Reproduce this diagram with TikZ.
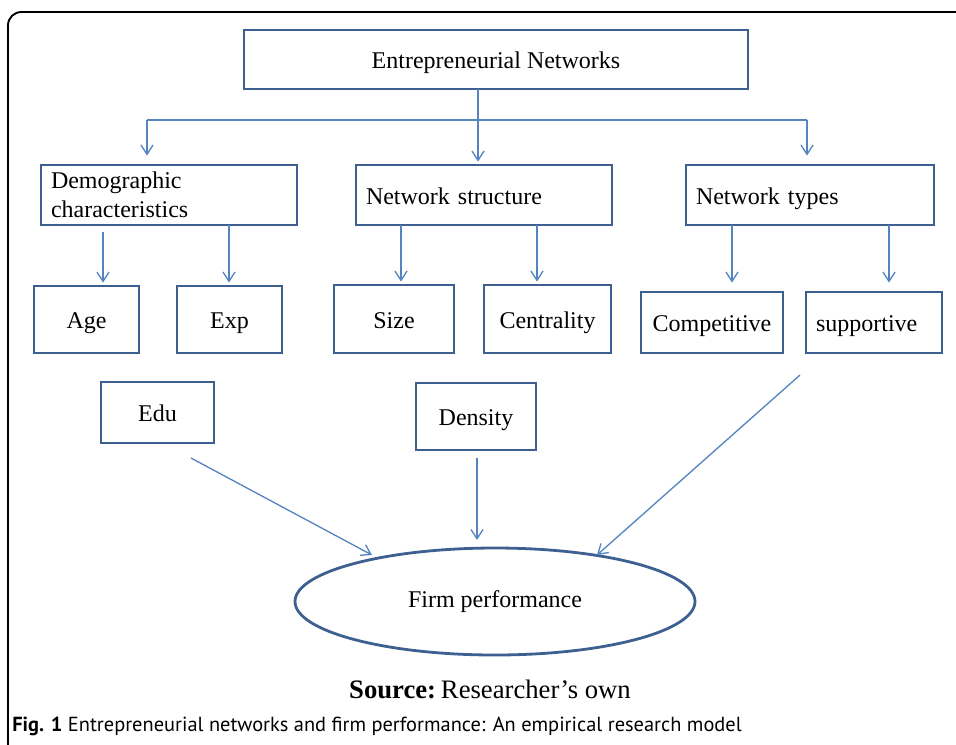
\documentclass[tikz,border=0pt]{standalone}
\usepackage{fontspec}
\setmainfont{Liberation Serif}
\newfontfamily\capfont{PT Sans}
\usetikzlibrary{arrows.meta,shapes.geometric}
\definecolor{boxblue}{HTML}{3E6090}
\definecolor{arrblue}{HTML}{5585C0}
\begin{document}
\begin{tikzpicture}[x=0.75pt,y=-0.75pt,
  bx/.style 2 args={draw=boxblue,line width=2.1pt,rectangle,minimum width=#1*0.75pt,minimum height=#2*0.75pt,inner sep=0pt,font=\fontsize{18}{21.5}\selectfont,text height=16pt,text depth=2pt},
  lbx/.style n args={3}{bx={#1}{#2},text width=#1*0.75pt-#3*1.5pt,align=left},
  arr/.style={draw=arrblue,line width=1pt,-{Straight Barb[length=7pt,width=9pt,line width=1pt]}},
  ln/.style={draw=arrblue,line width=1pt}]
\useasboundingbox (0,0) rectangle (956,744);
% outer frame
\draw[black,line width=1.4pt,rounded corners=10pt] (8,760) -- (8,12) -- (980,12);
% nodes
\node[bx={504}{59}] (top) at (496,59.5) {Entrepreneurial Networks};
\node[lbx={256}{60}{10},text height=,text depth=] (demo) at (169,195) {Demographic\\characteristics};
\node[lbx={256}{60}{10}] (struct) at (484,195) {Network structure};
\node[lbx={248}{60}{10}] (types) at (810,195) {Network types};
\node[bx={105}{67}] (age) at (86.5,319.5) {Age};
\node[bx={105}{67}] (exp) at (229.5,319.5) {Exp};
\node[bx={120}{68}] (size) at (394,319) {Size};
\node[bx={127}{68}] (cent) at (547.5,319) {Centrality};
\node[bx={142}{61}] (comp) at (712,322.5) {Competitive};
\node[lbx={136}{61}{10}] (supp) at (874,322.5) {supportive};
\node[bx={113}{61}] (edu) at (157.5,412.5) {Edu};
\node[bx={120}{67}] (dens) at (476,416.5) {Density};
\node[draw=boxblue,line width=2.1pt,ellipse,minimum width=400*0.75pt,minimum height=107*0.75pt,inner sep=0pt,font=\fontsize{18}{21.5}\selectfont] (perf) at (495,601.5) {Firm performance};
\node[font=\fontsize{20}{24}\selectfont] (src) at (490,689) {\textbf{Source:}\hspace{-0.15em} Researcher’s own};
\node[anchor=west,inner sep=0pt,font=\capfont\fontsize{15.3}{18}\selectfont] (cap) at (12,726) {\textbf{Fig. 1} Entrepreneurial networks and firm performance: An empirical research model};
% connectors
\coordinate (t0) at (478,89);
\coordinate (bl) at (147,120);
\coordinate (br) at (807,120);
\draw[arr,shorten >=1.5pt] (t0) -- (t0 |- struct.north);
\draw[ln] (bl) -- (br);
\draw[arr,shorten >=6pt] (bl) -- (bl |- demo.north);
\draw[arr,shorten >=6pt] (br) -- (br |- types.north);
\coordinate (d1) at (103,232);
\coordinate (d2) at (229,225);
\draw[arr,shorten >=1.5pt] (d1) -- (d1 |- age.north);
\draw[arr,shorten >=1.5pt] (d2) -- (d2 |- exp.north);
\coordinate (s1) at (401,225);
\coordinate (s2) at (537,225);
\draw[arr,shorten >=1.5pt] (s1) -- (s1 |- size.north);
\draw[arr,shorten >=1.5pt] (s2) -- (s2 |- cent.north);
\coordinate (n1) at (732,225);
\coordinate (n2) at (889,225);
\draw[arr,shorten >=6pt] (n1) -- (n1 |- comp.north);
\draw[arr,shorten >=6pt] (n2) -- (n2 |- supp.north);
\coordinate (e1) at (191,458);
\coordinate (e2) at (372,555);
\draw[arr] (e1) -- (e2);
\coordinate (y1) at (477,458);
\coordinate (y2) at (477,540);
\draw[arr] (y1) -- (y2);
\coordinate (p1) at (800,375);
\coordinate (p2) at (597,555);
\draw[arr] (p1) -- (p2);
\end{tikzpicture}
\end{document}
